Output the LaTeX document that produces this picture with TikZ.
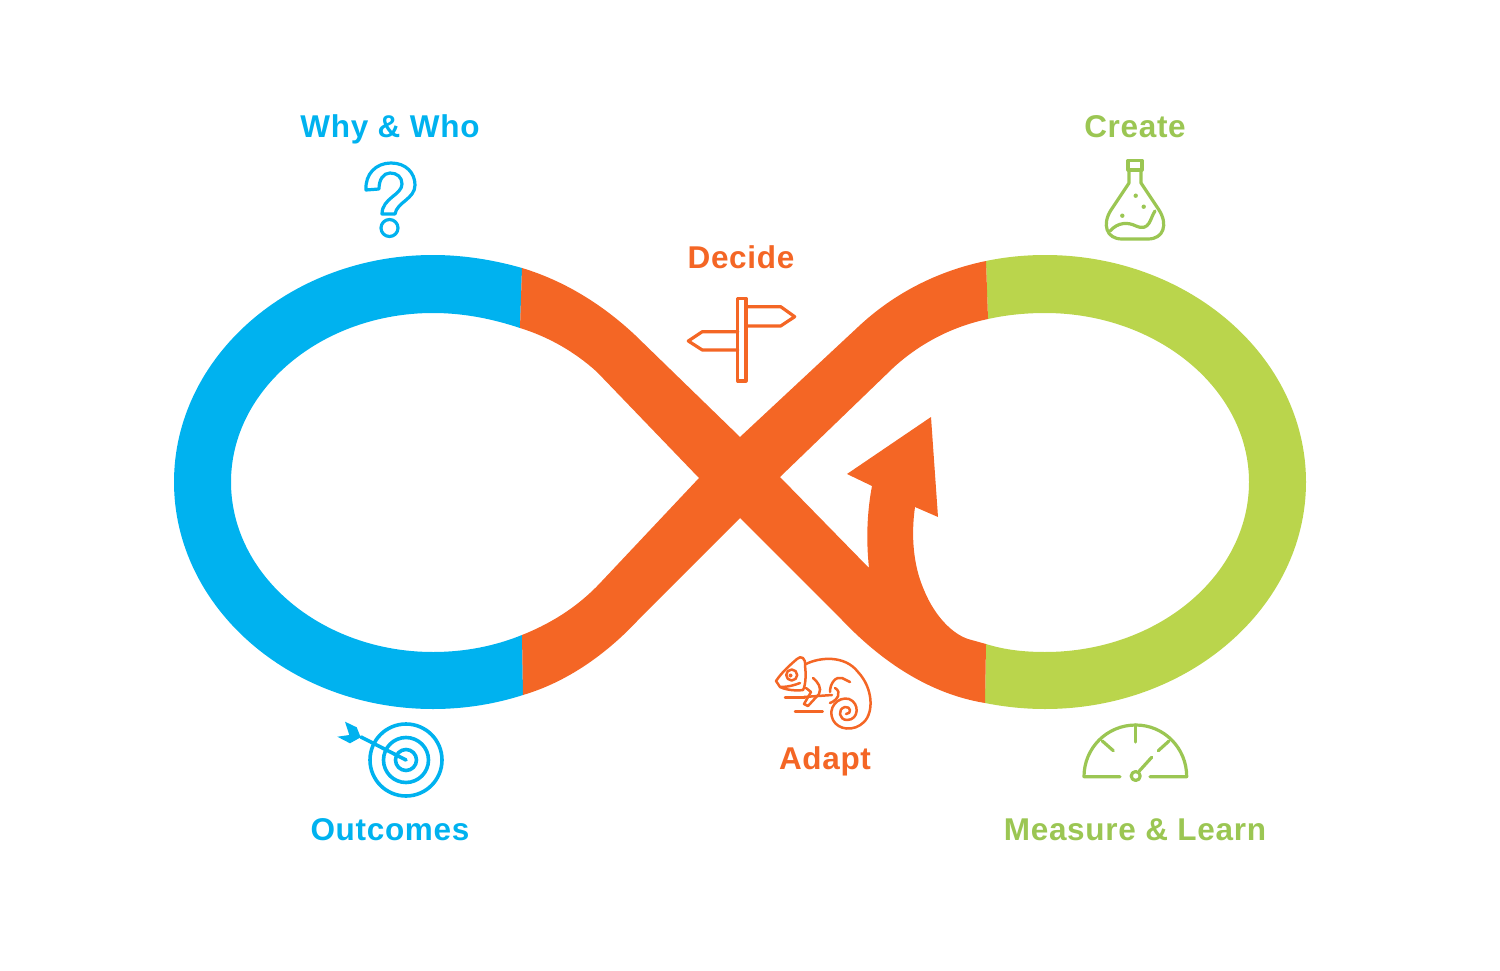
\documentclass[tikz,border=0pt]{standalone}
\usepackage{fontspec}
\setmainfont[LetterSpace=2.2]{Liberation Sans}
\definecolor{loopblue}{HTML}{00B2EF}
\definecolor{looporange}{HTML}{F46625}
\definecolor{loopgreen}{HTML}{BAD54C}
\definecolor{textgreen}{HTML}{9BC653}
\tikzset{
  steplabel/.style={font=\fontsize{31.5}{36}\selectfont\bfseries,inner sep=0pt,anchor=base},
  iconline/.style={line width=3.2pt,line join=round,line cap=round},
  thinicon/.style={line width=2.5pt,line join=round,line cap=round,looporange}
}
\begin{document}
\begin{tikzpicture}[x=1pt,y=-1pt]
\useasboundingbox (0,0) rectangle (1500,971);

% the blue part
\fill[loopblue] (522,268) .. controls (494,260) and (464,255) .. (433,255)
	.. controls (290,255) and (174,357) .. (174,482)
	.. controls (174,607) and (290,709) .. (433,709)
	.. controls (465,709) and (495,704) .. (523,695)
	-- (522,635) .. controls (495,646) and (465,652) .. (433,652)
	.. controls (322,652) and (231,576) .. (231,482)
	.. controls (231,389) and (322,313) .. (433,313)
	.. controls (464,313) and (493,319) .. (520,328) -- cycle;

% the green part
\fill[loopgreen] (986,261) .. controls (1005,257) and (1025,255) .. (1045,255)
	.. controls (1189,255) and (1306,357) .. (1306,482)
	.. controls (1306,607) and (1189,709) .. (1045,709)
	.. controls (1025,709) and (1005,707) .. (985,703)
	-- (986,644) .. controls (1005,650) and (1025,652) .. (1045,652)
	.. controls (1157,652) and (1249,576) .. (1249,482)
	.. controls (1249,389) and (1157,313) .. (1045,313)
	.. controls (1025,313) and (1006,315) .. (988,319) -- cycle;

% the orange part with its arrow
\fill[looporange] (522,268) .. controls (565,281) and (603,305) .. (635,335)
	-- (740,437) -- (858,327)
	.. controls (893,294) and (937,271) .. (986,261)
	-- (988,319) .. controls (950,327) and (918,345) .. (893,368)
	-- (780,477) -- (869,568)
	.. controls (866,540) and (867,512) .. (872,486)
	-- (847,474) -- (931,417) -- (938,517) -- (915,507)
	.. controls (911,535) and (913,565) .. (924,590)
	.. controls (935,617) and (953,634) .. (968,639)
	-- (986,644) -- (985,703)
	.. controls (930,694) and (882,662) .. (842,620)
	-- (740,518) -- (640,618)
	.. controls (607,654) and (567,682) .. (523,695)
	-- (522,635) .. controls (552,623) and (579,606) .. (602,581)
	-- (699,478) -- (597,372)
	.. controls (575,352) and (549,337) .. (520,328) -- cycle;

\node[steplabel,text=loopblue] (whywho) at (390,138) {Why \& Who};
\node[steplabel,text=looporange] (decide) at (741,268) {Decide};
\node[steplabel,text=textgreen] (create) at (1135,138) {Create};
\node[steplabel,text=loopblue] (outcomes) at (390,840) {Outcomes};
\node[steplabel,text=looporange] (adapt) at (825,769) {Adapt};
\node[steplabel,text=textgreen] (measure) at (1135,840) {Measure \& Learn};

% question mark
\draw[iconline,loopblue] (366,190) .. controls (365,174) and (376,163) .. (391,163)
	.. controls (406,163) and (415,173) .. (415,185)
	.. controls (415,199) and (397,202) .. (395,214) -- (382,214)
	.. controls (382,198) and (402,195) .. (402,184)
	.. controls (402,177) and (397,173) .. (390,173)
	.. controls (383,173) and (379,180) .. (379,189) -- cycle;
\draw[iconline,loopblue] (389.5,228) circle (8.5);

% signpost
\draw[iconline,looporange,line cap=butt] (737.7,298.3) rectangle (746,381);
\draw[iconline,looporange] (746,306.7) -- (780.7,306.7) -- (794.7,316.7) -- (780.7,326) -- (746,326);
\draw[iconline,looporange] (737.7,331.7) -- (702.3,331.7) -- (688.3,341) -- (702.3,350) -- (737.7,350);

% flask
\draw[iconline,textgreen] (1129,170) -- (1129,183) -- (1111,210)
	.. controls (1102,224) and (1106,239) .. (1122,239) -- (1148,239)
	.. controls (1164,239) and (1168,224) .. (1159,210)
	-- (1141,183) -- (1141,170);
\draw[iconline,textgreen] (1128,160.5) rectangle (1142,170);
\draw[iconline,textgreen] (1110,231) .. controls (1118,222) and (1128,222) .. (1136,226)
	.. controls (1150,232) and (1150,218) .. (1155,211);
\fill[textgreen] (1135.7,195.7) circle (2.2) (1143.7,206.7) circle (2.2) (1122.3,215.7) circle (2.2);

% target
\draw[iconline,loopblue,line width=3.6pt] (406,760) circle (36) (406,760) circle (22.5) (406,760) circle (10.5);
\draw[iconline,loopblue,line width=3.6pt] (406,760) -- (361,737);
\fill[loopblue] (345,721.7) -- (356.7,727.3) -- (360.7,737.3) -- (350,743.3) -- (337.3,736.7) -- (349.3,735) -- cycle;

% chameleon
\draw[thinicon] (776,681) .. controls (782,672) and (790,665) .. (797,659)
	.. controls (801,655) and (806,658) .. (805,666)
	.. controls (806,672) and (806,685) .. (803,690)
	.. controls (796,691) and (786,690) .. (780,687) -- cycle;
\draw[thinicon] (781,687) .. controls (788,687) and (795,685) .. (800,683);
\draw[thinicon] (791.7,675) circle (5.5);
\fill[looporange] (790.5,675.5) circle (2);
\draw[thinicon] (806,664) .. controls (820,657) and (845,655) .. (858,672)
	.. controls (873,688) and (874,712) .. (864,722)
	.. controls (854,732) and (838,730) .. (833,720)
	.. controls (827,708) and (838,696) .. (849,699)
	.. controls (860,703) and (859,720) .. (847,720)
	.. controls (839,720) and (837,709) .. (845,707)
	.. controls (851,706) and (852,714) .. (846,714);
\draw[thinicon] (813,678) .. controls (818,682) and (822,688) .. (819,694)
	-- (808,706) -- (804,704) -- (811,692) -- (806,688);
\draw[thinicon] (804,697) -- (832,695);
\draw[thinicon] (785,697.3) -- (805,697.3);
\draw[thinicon] (795,711.7) -- (822.7,711.7);
\draw[thinicon] (830,692) .. controls (830,683) and (836,676) .. (842,678) -- (850,682);
\draw[thinicon] (835,688) .. controls (842,692) and (838,700) .. (830,703);

% gauge
\draw[iconline,textgreen] (1120,776.7) -- (1084,776.7)
	.. controls (1084,748) and (1107,725) .. (1135.7,725)
	.. controls (1164,725) and (1186.7,748) .. (1186.7,776.7) -- (1150,776.7);
\draw[iconline,textgreen] (1135.7,725) -- (1135.7,742);
\draw[iconline,textgreen] (1102.3,741) -- (1113.3,750.7);
\draw[iconline,textgreen] (1169,741) -- (1158.3,750.7);
\draw[iconline,textgreen] (1139.3,771) -- (1151.7,757.3);
\draw[iconline,textgreen] (1135.7,776) circle (4.5);

\end{tikzpicture}
\end{document}
